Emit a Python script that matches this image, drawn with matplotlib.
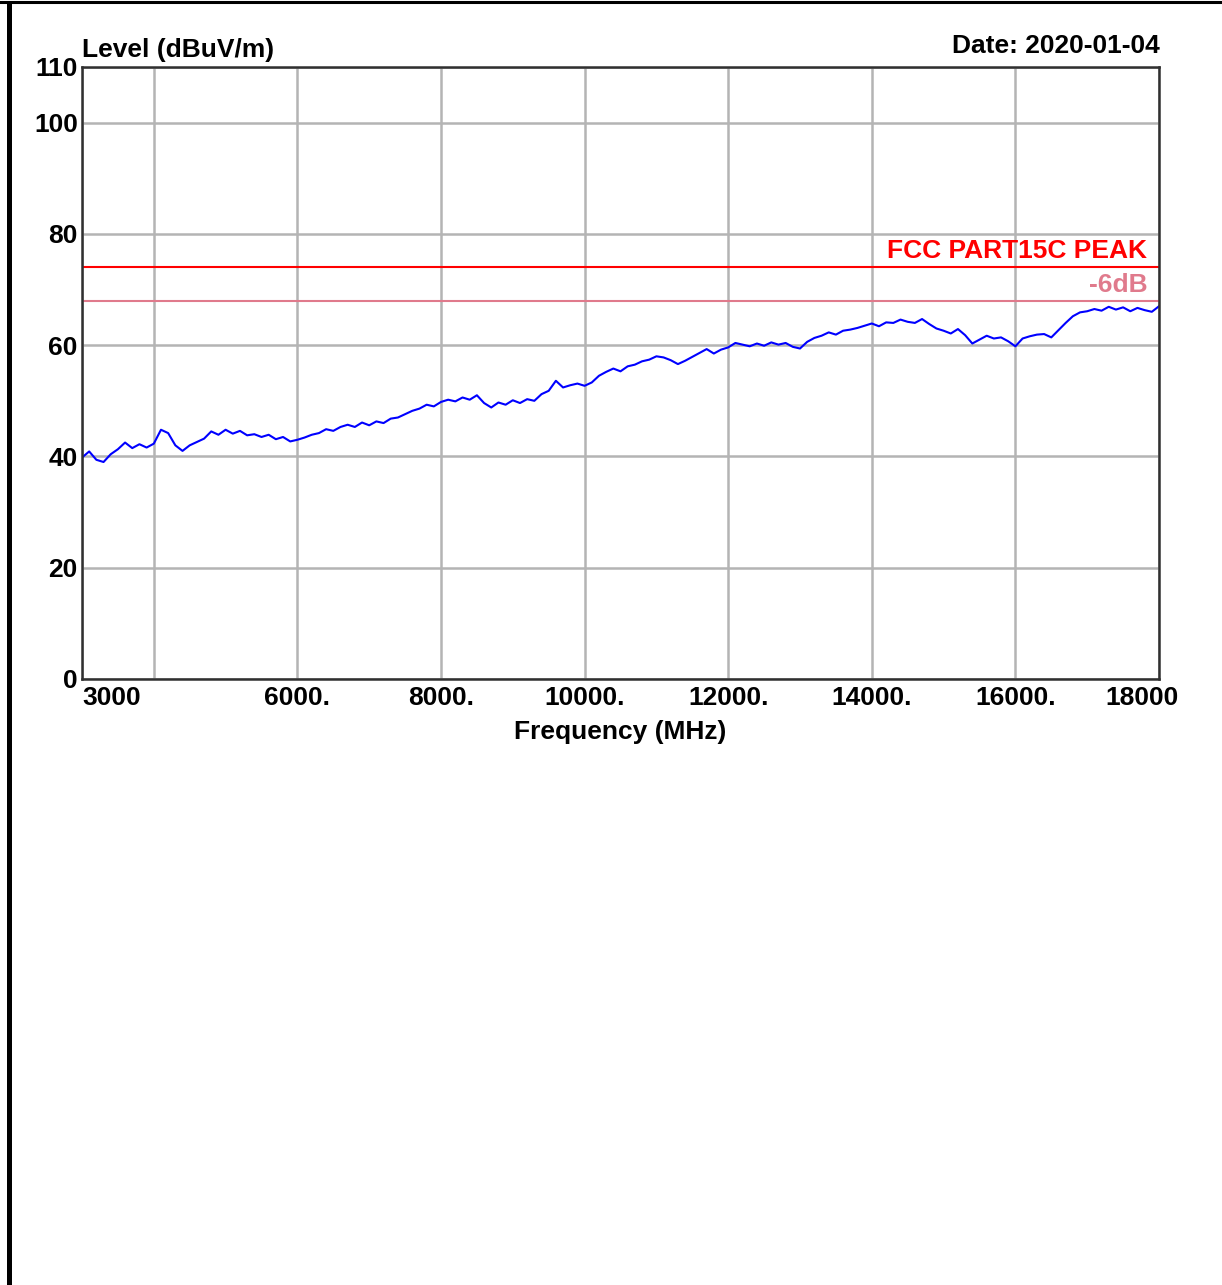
import numpy as np
import matplotlib
matplotlib.use("Agg")
import matplotlib.pyplot as plt
from matplotlib.lines import Line2D
from matplotlib.transforms import ScaledTranslation

# Section 1: Data
# Frequency span of the scan (MHz) and measured level (dBuV/m), one reading every 100 MHz

f_start = 3000
f_stop = 18000

level = [
    39.8, 40.9, 39.4, 39.0, 40.4, 41.3, 42.5, 41.5, 42.2, 41.6,
    42.3, 44.8, 44.2, 42.0, 41.0, 42.0, 42.6, 43.2, 44.5, 43.9,
    44.8, 44.1, 44.6, 43.8, 44.0, 43.5, 43.9, 43.1, 43.5, 42.7,
    43.0, 43.4, 43.9, 44.2, 44.9, 44.6, 45.3, 45.7, 45.3, 46.1,
    45.6, 46.3, 46.0, 46.8, 47.0, 47.6, 48.2, 48.6, 49.3, 49.0,
    49.8, 50.2, 49.9, 50.6, 50.2, 51.0, 49.6, 48.8, 49.7, 49.3,
    50.1, 49.6, 50.3, 50.0, 51.2, 51.8, 53.6, 52.4, 52.8, 53.1,
    52.7, 53.3, 54.5, 55.2, 55.8, 55.3, 56.2, 56.5, 57.1, 57.4,
    58.0, 57.8, 57.3, 56.6, 57.2, 57.9, 58.6, 59.3, 58.5, 59.2,
    59.6, 60.4, 60.1, 59.8, 60.3, 59.9, 60.5, 60.1, 60.4, 59.7,
    59.4, 60.6, 61.3, 61.7, 62.3, 61.9, 62.6, 62.8, 63.1, 63.5,
    63.9, 63.4, 64.1, 64.0, 64.6, 64.2, 64.0, 64.7, 63.8, 63.0,
    62.6, 62.1, 62.9, 61.8, 60.3, 61.0, 61.7, 61.2, 61.4, 60.7,
    59.8, 61.2, 61.6, 61.9, 62.0, 61.4, 62.7, 64.0, 65.2, 65.9,
    66.1, 66.5, 66.2, 66.9, 66.4, 66.8, 66.1, 66.7, 66.3, 66.0,
    67.0,
]
freq = np.linspace(f_start, f_stop, len(level))

# Limit lines
limit_peak = 74.0
limit_margin = 68.0

# Axis ticks
x_ticks = [3000, 4000, 6000, 8000, 10000, 12000, 14000, 16000, 18000]
x_labels = ["3000", "", "6000.", "8000.", "10000.", "12000.", "14000.", "16000.", "18000"]
y_ticks = [0, 20, 40, 60, 80, 100, 110]
y_labels = ["0", "20", "40", "60", "80", "100", "110"]

# Section 2: Plot

plt.rcParams["font.family"] = ["Liberation Sans", "DejaVu Sans"]
plt.rcParams["font.weight"] = "bold"
fs = 19

fig = plt.figure(figsize=(12.22, 12.85), dpi=100)
ax = fig.add_axes([82 / 1222, 1 - 679 / 1285, 1077 / 1222, 612 / 1285])

ax.plot(freq, level, color="#0000ff", linewidth=1.5)
ax.axhline(limit_peak, color="#ff0000", linewidth=1.5)
ax.axhline(limit_margin, color="#e07a8c", linewidth=1.5)

ax.text(0.989, limit_peak + 1.6, "FCC PART15C PEAK", transform=ax.get_yaxis_transform(),
        ha="right", va="baseline", color="#ff0000", fontsize=fs, fontweight="bold")
ax.text(0.989, limit_margin + 1.6, "-6dB", transform=ax.get_yaxis_transform(),
        ha="right", va="baseline", color="#e07a8c", fontsize=fs, fontweight="bold")

ax.set_xlim(f_start, f_stop)
ax.set_ylim(0, 110)
ax.set_xticks(x_ticks)
ax.set_xticklabels(x_labels)
ax.set_yticks(y_ticks)
ax.set_yticklabels(y_labels)
ax.tick_params(axis="x", length=0, labelsize=fs, pad=5)
ax.tick_params(axis="y", length=0, labelsize=fs, pad=3)
ax.grid(True, color="#b4b4b4", linewidth=1.8)
for s in ax.spines.values():
    s.set_color("#303030")
    s.set_linewidth(1.8)

# end labels sit off-centre like the original
xl = ax.get_xticklabels()
xl[0].set_ha("left")
xl[-1].set_transform(xl[-1].get_transform() + ScaledTranslation(-0.17, 0, fig.dpi_scale_trans))

ax.set_xlabel("Frequency (MHz)", fontsize=fs, fontweight="bold", labelpad=7)

fig.text(82 / 1222, 1 - 57 / 1285, "Level (dBuV/m)", ha="left", va="baseline",
         fontsize=fs, fontweight="bold")
fig.text(1160 / 1222, 1 - 53 / 1285, "Date: 2020-01-04", ha="right", va="baseline",
         fontsize=fs, fontweight="bold")

# page border (top rule and thick left rule)
fig.add_artist(Line2D([0, 1], [1 - 1.5 / 1285, 1 - 1.5 / 1285], color="black", linewidth=2.2,
                      transform=fig.transFigure))
fig.add_artist(Line2D([8.5 / 1222, 8.5 / 1222], [0, 1 - 3 / 1285], color="black", linewidth=3.6,
                      transform=fig.transFigure))

fig.savefig("out.png", dpi=100, facecolor="white")
